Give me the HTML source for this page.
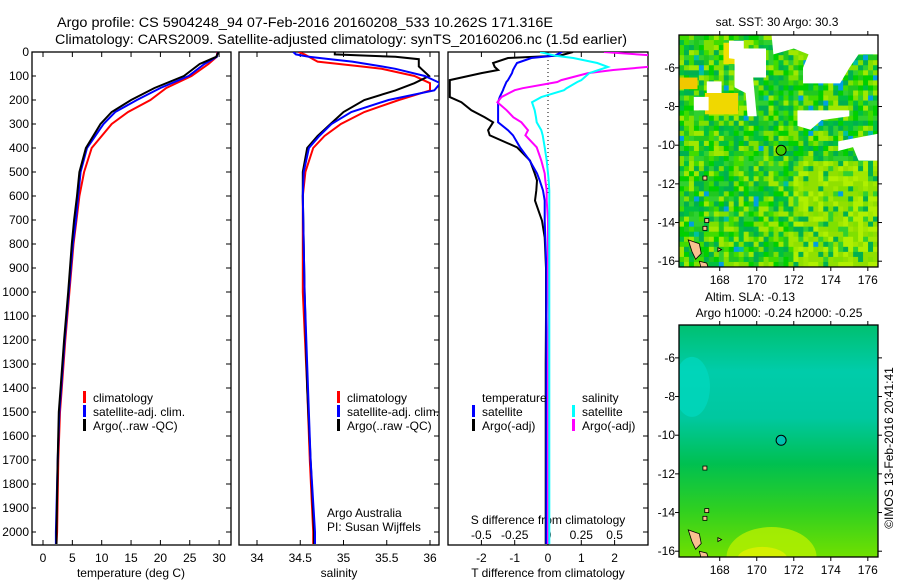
<!DOCTYPE html>
<html><head><meta charset="utf-8">
<style>
html,body{margin:0;padding:0;background:#fff;}
svg{display:block;font-family:"Liberation Sans",sans-serif;}
text{fill:#000;}
</style></head>
<body>
<svg id="fig" width="900" height="580" viewBox="0 0 900 580" xmlns="http://www.w3.org/2000/svg">
<text x="57" y="27" font-size="13.5" textLength="496" lengthAdjust="spacingAndGlyphs">Argo profile: CS 5904248_94 07-Feb-2016 20160208_533 10.262S 171.316E</text>
<text x="55" y="44" font-size="13.5" textLength="572" lengthAdjust="spacingAndGlyphs">Climatology: CARS2009. Satellite-adjusted climatology: synTS_20160206.nc (1.5d earlier)</text>
<g id="g"></g>
</svg>
<script>
// ---------- DATA ----------
const depthTicks=[0,100,200,300,400,500,600,700,800,900,1000,1100,1200,1300,1400,1500,1600,1700,1800,1900,2000];
const tempTicks=[0,5,10,15,20,25,30];
const salTicks=[34,34.5,35,35.5,36];
const salTickLabels=["34","34.5","35","35.5","36"];
const tdiffTicks=[-2,-1,0,1,2];
const sdiffTicks=[-0.5,-0.25,0,0.25,0.5];
const sdiffTickLabels=["-0.5","-0.25","0","0.25","0.5"];
const lonTicks=[168,170,172,174,176];
const latTicks=[-6,-8,-10,-12,-14,-16];

const depthT=[0,20,50,100,150,200,250,300,400,500,600,700,800,1000,1200,1400,1500,1700,2000,2050];
const tempClim=[29.7,29.6,28.2,25.3,21.0,18.3,14.5,11.7,8.3,7.0,6.2,5.7,5.2,4.5,3.8,3.2,2.9,2.6,2.4,2.3];
const tempSat=[29.8,29.6,27.5,24.8,20.0,16.0,12.3,10.3,7.5,6.4,6.0,5.6,5.1,4.4,3.7,3.1,2.8,2.5,2.2,2.2];
const tempArgo=[29.9,29.5,26.7,24.0,19.0,15.0,11.7,9.8,7.3,6.2,5.8,5.3,4.9,4.3,3.6,3.0,2.7,2.5,2.3,2.3];

const depthS=[0,10,20,30,40,60,70,100,130,160,200,250,300,350,400,500,600,800,1000,1400,1700,2000,2050];
const salClim=[34.48,34.55,34.6,34.65,34.7,35.2,35.44,35.82,36.0,36.0,35.64,35.24,34.97,34.78,34.65,34.56,34.53,34.53,34.53,34.58,34.61,34.65,34.65];
const salSat=[34.42,34.45,34.6,34.85,35.1,35.44,35.6,35.94,36.12,36.05,35.52,35.09,34.86,34.72,34.6,34.54,34.53,34.54,34.55,34.59,34.62,34.67,34.67];
const salArgo=[34.9,34.9,35.6,35.87,35.87,35.87,35.9,35.99,35.82,35.6,35.24,35.0,34.85,34.7,34.58,34.53,34.53,34.54,34.55,34.58,34.62,34.66,34.66];

const depthD=[0,15,25,46,62,75,88,117,125,151,159,188,209,243,272,293,326,347,397,452,506,535,577,619,703,773,900,1100,1300,1500,1800,2050];
const tdiffSat=[0.42,0.2,-0.5,-0.93,-1.0,-1.05,-1.08,-1.2,-1.25,-1.33,-1.35,-1.45,-1.5,-1.5,-1.5,-1.5,-1.2,-1.05,-0.84,-0.55,-0.33,-0.25,-0.15,-0.1,-0.1,-0.08,-0.05,-0.05,-0.05,-0.05,-0.05,-0.05];
const tdiffArgo=[0.75,0.35,-1.2,-1.65,-1.6,-1.5,-2.0,-2.95,-2.95,-2.95,-2.95,-2.95,-2.6,-2.3,-1.9,-1.65,-1.8,-1.75,-0.93,-0.54,-0.4,-0.33,-0.35,-0.39,-0.18,-0.1,-0.06,-0.06,-0.07,-0.07,-0.07,-0.07];
const sdiffSat=[-0.06,0.05,0.19,0.37,0.45,0.38,0.31,0.25,0.22,0.14,0.12,-0.05,-0.12,-0.1,-0.09,-0.085,-0.05,-0.04,-0.025,-0.01,0.0,0.005,0.01,0.01,0.01,0.01,0.01,0.01,0.01,0.01,0.01,0.01];
const sdiffArgo=[0.42,0.8,0.8,0.8,0.75,0.49,0.3,0.1,0.07,-0.19,-0.25,-0.35,-0.38,-0.31,-0.26,-0.2,-0.15,-0.17,-0.085,-0.05,-0.025,-0.02,-0.01,-0.01,0.0,0.0,0.0,0.005,0.0,0.0,0.0,0.0];

const floatLon=171.316, floatLat=-10.262;

// ---------- helpers ----------
const NS="http://www.w3.org/2000/svg";
const G=document.getElementById('g');
function el(tag,attrs,parent){const e=document.createElementNS(NS,tag);for(const k in attrs)e.setAttribute(k,attrs[k]);(parent||G).appendChild(e);return e;}
const yTop=52, yBot=545;
const yD=d=>yTop+0.24*d;
const xT=t=>43+5.87*t;
const xS=s=>257+86.5*(s-34);
const xTD=t=>548+33.3*t;
const xSD=s=>548+133.2*s;
const panels=[[32,231],[239,439],[448,648]];

panels.forEach((p,i)=>{
  const c=el('clipPath',{id:'clip'+i});
  el('rect',{x:p[0],y:yTop,width:p[1]-p[0],height:yBot-yTop},c);
});

function line(xs,ds,xf,color,clip,name,w){
  const pts=xs.map((v,i)=>xf(v).toFixed(1)+','+yD(ds[i]).toFixed(1)).join(' ');
  const e=el('polyline',{points:pts,fill:'none',stroke:color,'stroke-width':w||2,'clip-path':'url(#clip'+clip+')'});
  
  
}
function txt(x,y,s,size,anchor,name){
  const e=el('text',{x:x,y:y,'font-size':size||12,'text-anchor':anchor||'start'});
  e.textContent=s;
  
  
  return e;
}

panels.forEach((p,i)=>{
  const f=el('rect',{x:p[0],y:yTop,width:p[1]-p[0],height:yBot-yTop,fill:'none',stroke:'#000','stroke-width':1.3});
  
  
  depthTicks.forEach(d=>{
    el('line',{x1:p[1]-5,x2:p[1],y1:yD(d),y2:yD(d),stroke:'#000','stroke-width':1});
    if(i===0) el('line',{x1:p[0],x2:p[0]+4,y1:yD(d),y2:yD(d),stroke:'#000','stroke-width':1});
  });
});
depthTicks.forEach(d=>{ txt(29,yD(d)+4,String(d),12,'end','depth-tick-label'); });

tempTicks.forEach(t=>{
  el('line',{x1:xT(t),x2:xT(t),y1:yBot,y2:yBot-5,stroke:'#000'});
  el('line',{x1:xT(t),x2:xT(t),y1:yTop,y2:yTop+5,stroke:'#000'});
  txt(xT(t),562,String(t),12,'middle','temp-tick-label');
});
txt(131,577,'temperature (deg C)',12,'middle','temp-axis-title');
salTicks.forEach((s,i)=>{
  el('line',{x1:xS(s),x2:xS(s),y1:yBot,y2:yBot-5,stroke:'#000'});
  el('line',{x1:xS(s),x2:xS(s),y1:yTop,y2:yTop+5,stroke:'#000'});
  txt(xS(s),562,salTickLabels[i],12,'middle','sal-tick-label');
});
txt(339,577,'salinity',12,'middle','sal-axis-title');
tdiffTicks.forEach(t=>{
  el('line',{x1:xTD(t),x2:xTD(t),y1:yTop,y2:yTop+5,stroke:'#000'});
  txt(xTD(t),562,String(t),12,'middle','tdiff-tick-label');
});
sdiffTicks.forEach((s,i)=>{
  el('line',{x1:xSD(s),x2:xSD(s),y1:yBot,y2:yBot-5,stroke:'#000'});
  txt(xSD(s),539,sdiffTickLabels[i],12,'middle','sdiff-tick-label');
});
txt(548,524,'S difference from climatology',12,'middle','sdiff-axis-title');
txt(548,577,'T difference from climatology',12,'middle','tdiff-axis-title');
el('line',{x1:xTD(0),x2:xTD(0),y1:yTop,y2:yD(600),stroke:'#000','stroke-dasharray':'1,3','stroke-width':1});

line(tempClim,depthT,xT,'#ff0000',0,'temp-climatology-line');
line(tempSat,depthT,xT,'#0000ff',0,'temp-satellite-line');
line(tempArgo,depthT,xT,'#000000',0,'temp-argo-line');
line(salClim,depthS,xS,'#ff0000',1,'sal-climatology-line');
line(salArgo,depthS,xS,'#000000',1,'sal-argo-line');
line(salSat,depthS,xS,'#0000ff',1,'sal-satellite-line');
line(tdiffArgo,depthD,xTD,'#000000',2,'tdiff-argo-line');
line(tdiffSat,depthD,xTD,'#0000ff',2,'tdiff-satellite-line');
line(sdiffArgo,depthD,xSD,'#ff00ff',2,'sdiff-argo-line');
line(sdiffSat,depthD,xSD,'#00ffff',2,'sdiff-satellite-line');

function legend(x,y,items,name){
  items.forEach((it,i)=>{
    if(it[0]) el('rect',{x:x,y:y+i*14-11,width:3,height:12,fill:it[0]});
    txt(x+10,y+i*14,it[1],12,'start',name);
  });
}
legend(83,402,[['#ff0000','climatology'],['#0000ff','satellite-adj. clim.'],['#000000','Argo(..raw -QC)']],'legend-entry');
legend(337,402,[['#ff0000','climatology'],['#0000ff','satellite-adj. clim.'],['#000000','Argo(..raw -QC)']],'legend-entry');
legend(472,402,[[null,'temperature'],['#0000ff','satellite'],['#000000','Argo(-adj)']],'legend-entry');
legend(572,402,[[null,'salinity'],['#00ffff','satellite'],['#ff00ff','Argo(-adj)']],'legend-entry');
txt(327,517,'Argo Australia',12,'start','credit-text');
txt(327,531,'PI: Susan Wijffels',12,'start','credit-text');

// ---------- maps ----------
const lonMin=165.8, lonMax=176.55, latMin=-16.3, latMax=-4.3;
function mapAxes(top,bot){
  const L=679,R=878;
  const xL=lon=>L+(lon-lonMin)/(lonMax-lonMin)*(R-L);
  const yL=lat=>top+(latMax-lat)/(latMax-latMin)*(bot-top);
  return {L,R,xL,yL,top,bot};
}
function hash(i,j){let h=(i*374761393+j*668265263)^0x5bd1e995;h=(h^(h>>>13))*1274126177;return ((h^(h>>>16))>>>0)/4294967296;}
function drawMap(m,kind,name){
  const grp=el('g',{});
  
  
  const cp=el('clipPath',{id:'clip'+name});
  el('rect',{x:m.L,y:m.top,width:m.R-m.L,height:m.bot-m.top},cp);
  const inner=el('g',{'clip-path':'url(#clip'+name+')'},grp);
  const cw=(m.R-m.L)/40, ch=(m.bot-m.top)/46;
  if(kind==='sst'){
    const pal=['#00d000','#20c820','#00c040','#40dc00','#80e000','#a0e800','#00b050','#30d030'];
    for(let i=0;i<40;i++)for(let j=0;j<46;j++){
      const r=hash(i,j);let c=pal[Math.floor(r*pal.length)];
      if(j>24&&i>22&&r<0.5) c=(r<0.25?'#b0f000':'#90e000');
      if(r>0.985) c='#00a0e0'; else if(r>0.975) c='#00c0a0';
      el('rect',{x:m.L+i*cw,y:m.top+j*ch,width:cw+0.5,height:ch+0.5,fill:c},inner);
    }
    el('rect',{x:m.xL(167.2),y:m.yL(-7.3),width:m.xL(169)-m.xL(167.2),height:m.yL(-8.4)-m.yL(-7.3),fill:'#f0d800'},inner);
    el('rect',{x:m.xL(165.8),y:m.yL(-6.5),width:m.xL(166.8)-m.xL(165.8),height:m.yL(-7.1)-m.yL(-6.5),fill:'#f0c800'},inner);
    el('rect',{x:m.xL(168.2),y:m.yL(-4.7),width:m.xL(169)-m.xL(168.2),height:m.yL(-5.8)-m.yL(-4.7),fill:'#f0e000'},inner);
    const gaps=[[[168.8,-5],[170.5,-5],[170.5,-6.5],[169.8,-6.5],[170,-8.5],[169.5,-8.5],[169.4,-7.3],[168.8,-7]],
      [[170.8,-4.3],[176.6,-4.3],[176.6,-5.3],[175.5,-5.3],[175,-6],[174.5,-6.8],[172.5,-6.8],[172.5,-6],[172.8,-5.3],[172,-5],[170.9,-5.3]],
      [[172.2,-8.2],[175,-8.2],[175,-8.5],[173.5,-8.7],[172.9,-9.2],[172.2,-9.0]],
      [[174.4,-9.8],[176.6,-9.4],[176.6,-10.8],[175.5,-10.8],[175.2,-10.1],[174.4,-10.3]],
      [[166.6,-7.5],[167.4,-7.5],[167.4,-8.2],[166.6,-8.2]],
      [[167.3,-6.7],[168.1,-6.7],[168.1,-7.3],[167.3,-7.3]],
      [[168.5,-4.6],[169.3,-4.6],[169.3,-5.6],[168.5,-5.5]]];
    gaps.forEach(gp=>{el('polygon',{points:gp.map(p=>m.xL(p[0])+','+m.yL(p[1])).join(' '),fill:'#fff'},inner);});
  } else {
    const gr=el('linearGradient',{id:'slaGrad',x1:0,y1:0,x2:0,y2:1});
    [['0','#00c070'],['0.2','#00ccaa'],['0.4','#00c8a0'],['0.6','#00c050'],['0.8','#30d020'],['1','#70e000']].forEach(s=>el('stop',{offset:s[0],'stop-color':s[1]},gr));
    el('rect',{x:m.L,y:m.top,width:m.R-m.L,height:m.bot-m.top,fill:'url(#slaGrad)'},inner);
    el('ellipse',{cx:m.xL(170.8),cy:m.yL(-16.3),rx:45,ry:30,fill:'#b8f000',opacity:0.8},inner);
    el('ellipse',{cx:m.xL(170.3),cy:m.yL(-16.4),rx:25,ry:12,fill:'#e0f000',opacity:0.8},inner);
    el('ellipse',{cx:m.xL(166.5),cy:m.yL(-7.5),rx:18,ry:30,fill:'#00d8c0',opacity:0.7},inner);
  }
  const isl=[[[166.3,-14.9],[166.9,-15.1],[167.0,-15.6],[166.7,-15.9],[166.5,-15.5]],[[166.9,-16.0],[167.3,-16.1],[167.4,-16.4],[167.0,-16.4]],[[167.9,-15.3],[168.1,-15.4],[167.9,-15.5]]];
  isl.forEach(p=>el('polygon',{points:p.map(q=>m.xL(q[0])+','+m.yL(q[1])).join(' '),fill:'#f8c090',stroke:'#000','stroke-width':0.8},inner));
  [[167.2,-11.7],[167.2,-14.3],[167.3,-13.9]].forEach(q=>el('rect',{x:m.xL(q[0])-2,y:m.yL(q[1])-2,width:4,height:4,fill:'#f8c090',stroke:'#000','stroke-width':0.8},inner));
  const fc=el('circle',{cx:m.xL(floatLon),cy:m.yL(floatLat),r:5,fill:kind==='sst'?'#40d000':'#00c0b0',stroke:'#000','stroke-width':1},grp);
  
  
  el('rect',{x:m.L,y:m.top,width:m.R-m.L,height:m.bot-m.top,fill:'none',stroke:'#000','stroke-width':1.3},grp);
  lonTicks.forEach(l=>{
    el('line',{x1:m.xL(l),x2:m.xL(l),y1:m.top-4,y2:m.top,stroke:'#000'},grp);
    el('line',{x1:m.xL(l),x2:m.xL(l),y1:m.bot,y2:m.bot+4,stroke:'#000'},grp);
    txt(m.xL(l),m.bot+17,String(l),12,'middle','lon-tick-label');
  });
  latTicks.forEach(l=>{
    el('line',{x1:m.L-4,x2:m.L,y1:m.yL(l),y2:m.yL(l),stroke:'#000'},grp);
    el('line',{x1:m.R,x2:m.R+4,y1:m.yL(l),y2:m.yL(l),stroke:'#000'},grp);
    txt(m.L-4,m.yL(l)+4,String(l),12,'end','lat-tick-label');
  });
}
const m1=mapAxes(35,267); drawMap(m1,'sst','sst-map');
const m2=mapAxes(325,557); drawMap(m2,'sla','sla-map');
txt(777,26,'sat. SST: 30 Argo: 30.3',12,'middle','sst-map-title');
txt(750,301,'Altim. SLA: -0.13',12,'middle','sla-map-title');
txt(779,317,'Argo h1000: -0.24 h2000: -0.25',12,'middle','sla-map-subtitle');
const ts=txt(0,0,'©IMOS 13-Feb-2016 20:41:41',12,'middle','timestamp');
ts.setAttribute('transform','translate(893,448) rotate(-90)');
</script>
</body></html>
